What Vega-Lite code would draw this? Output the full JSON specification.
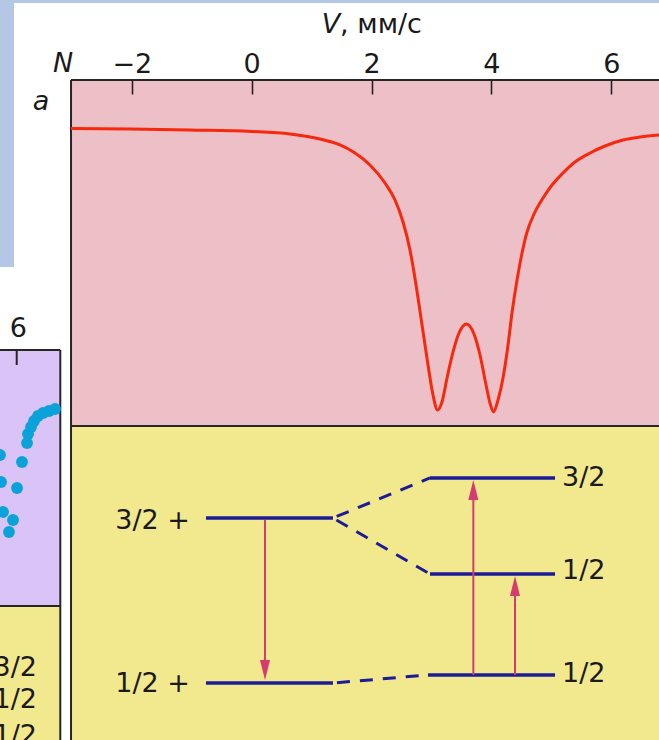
{
  "$schema": "https://vega.github.io/schema/vega-lite/v6.json",
  "width": 659,
  "height": 740,
  "autosize": {"type": "fit", "contains": "padding"},
  "padding": 0,
  "background": "#ffffff",
  "config": {"view": {"stroke": null}},
  "datasets": {
    "regions": [
      {"v": -4.2, "v2": 6.796, "n": 1.41, "n2": 1.42, "region": "slide"},
      {"v": -4.2, "v2": -3.966, "n": 0.53, "n2": 1.42, "region": "slide"},
      {"v": -3.015, "v2": 6.796, "n": 0, "n2": 1.1533, "region": "spectrum"},
      {"v": -3.015, "v2": 6.796, "n": -1.0467, "n2": 0, "region": "levels"},
      {"v": -4.2, "v2": -3.194, "n": -0.6, "n2": 0.2533, "region": "spectrumB"},
      {"v": -4.2, "v2": -3.194, "n": -1.0467, "n2": -0.6, "region": "levels"}
    ],
    "frames": [
      {"v": -3.015, "v2": 6.796, "n": 1.1533, "n2": 1.1533},
      {"v": -3.015, "v2": -3.015, "n": -1.0467, "n2": 1.1533},
      {"v": -3.015, "v2": 6.796, "n": 0, "n2": 0},
      {"v": -4.2, "v2": -3.194, "n": 0.2533, "n2": 0.2533},
      {"v": -3.194, "v2": -3.194, "n": -1.0467, "n2": 0.2533},
      {"v": -4.2, "v2": -3.194, "n": -0.6, "n2": -0.6},
      {"v": -3.921, "v2": -3.921, "n": 0.2033, "n2": 0.2533}
    ],
    "spectrum": [
      {"v": -3.015, "n": 0.9917}, {"v": -2.031, "n": 0.99}, {"v": -1.03, "n": 0.9867},
      {"v": 0.0, "n": 0.9817}, {"v": 0.639, "n": 0.9733}, {"v": 1.14, "n": 0.9567},
      {"v": 1.473, "n": 0.9367}, {"v": 1.724, "n": 0.91}, {"v": 1.974, "n": 0.87},
      {"v": 2.224, "n": 0.81}, {"v": 2.391, "n": 0.7533}, {"v": 2.525, "n": 0.68},
      {"v": 2.641, "n": 0.5867}, {"v": 2.742, "n": 0.47}, {"v": 2.842, "n": 0.3367},
      {"v": 2.942, "n": 0.2033}, {"v": 3.025, "n": 0.1033}, {"v": 3.1, "n": 0.0533},
      {"v": 3.175, "n": 0.08}, {"v": 3.259, "n": 0.16}, {"v": 3.359, "n": 0.2467},
      {"v": 3.459, "n": 0.31}, {"v": 3.584, "n": 0.34}, {"v": 3.709, "n": 0.3067},
      {"v": 3.809, "n": 0.2367}, {"v": 3.91, "n": 0.1367}, {"v": 3.976, "n": 0.0767},
      {"v": 4.035, "n": 0.0467}, {"v": 4.11, "n": 0.0867}, {"v": 4.193, "n": 0.16},
      {"v": 4.277, "n": 0.27}, {"v": 4.343, "n": 0.3767}, {"v": 4.427, "n": 0.4867},
      {"v": 4.494, "n": 0.56}, {"v": 4.589, "n": 0.6433}, {"v": 4.711, "n": 0.7067},
      {"v": 4.861, "n": 0.76}, {"v": 5.011, "n": 0.8033}, {"v": 5.194, "n": 0.8433},
      {"v": 5.394, "n": 0.88}, {"v": 5.645, "n": 0.91}, {"v": 5.895, "n": 0.9333},
      {"v": 6.195, "n": 0.9533}, {"v": 6.479, "n": 0.9633}, {"v": 6.796, "n": 0.97}
    ],
    "spectrumB": [
      {"v": -3.282, "n": 0.0567}, {"v": -3.382, "n": 0.05}, {"v": -3.482, "n": 0.0433},
      {"v": -3.566, "n": 0.0333}, {"v": -3.632, "n": 0.0167}, {"v": -3.682, "n": -0.0033},
      {"v": -3.732, "n": -0.0267}, {"v": -3.749, "n": -0.0567}, {"v": -3.833, "n": -0.12},
      {"v": -3.916, "n": -0.2067}, {"v": -4.2, "n": -0.0967}, {"v": -4.183, "n": -0.1867},
      {"v": -4.15, "n": -0.2867}, {"v": -3.983, "n": -0.3133}, {"v": -4.05, "n": -0.3533}
    ],
    "levels": [
      {"v": -0.763, "v2": 1.356, "n": -0.3067},
      {"v": -0.763, "v2": 1.356, "n": -0.8567},
      {"v": 2.975, "v2": 5.061, "n": -0.1733},
      {"v": 2.975, "v2": 5.061, "n": -0.4933},
      {"v": 2.941, "v2": 5.061, "n": -0.83}
    ],
    "links": [
      {"v": 1.356, "n": -0.3067, "v2": 2.975, "n2": -0.1733},
      {"v": 1.356, "n": -0.3067, "v2": 2.975, "n2": -0.4933},
      {"v": 1.356, "n": -0.8567, "v2": 2.941, "n2": -0.83}
    ],
    "transitions": [
      {"v": 0.222, "n": -0.3133, "n2": -0.8067},
      {"v": 3.698, "n": -0.83, "n2": -0.2333},
      {"v": 4.393, "n": -0.83, "n2": -0.5533}
    ],
    "heads": [
      {"v": 0.222, "n": -0.8133, "dir": "down"},
      {"v": 3.698, "n": -0.2133, "dir": "up"},
      {"v": 4.393, "n": -0.5333, "dir": "up"}
    ],
    "spinRight": [
      {"v": -1.03, "n": -0.3167, "label": "3/2 +"},
      {"v": -1.03, "n": -0.86, "label": "1/2 +"},
      {"v": -3.583, "n": -0.8067, "label": "3/2"},
      {"v": -3.583, "n": -0.9133, "label": "1/2"},
      {"v": -3.583, "n": -1.0333, "label": "1/2"}
    ],
    "spinLeft": [
      {"v": 5.178, "n": -0.1733, "label": "3/2"},
      {"v": 5.178, "n": -0.4833, "label": "1/2"},
      {"v": 5.178, "n": -0.8267, "label": "1/2"}
    ],
    "symbols": [
      {"v": -3.146, "n": 1.18, "label": "N"},
      {"v": -3.516, "n": 1.0533, "label": "a"},
      {"v": 1.323, "n": 1.31, "label": "V"}
    ],
    "unit": [
      {"v": 1.475, "n": 1.31, "label": ", мм/с"}
    ],
    "tickB": [
      {"v": -3.894, "n": 0.2967, "label": "6"}
    ]
  },
  "encoding": {
    "x": {
      "field": "v",
      "type": "quantitative",
      "scale": {"domain": [-4.2, 6.796], "nice": false, "zero": false},
      "axis": {
        "orient": "top",
        "values": [-2, 0, 2, 4, 6],
        "title": null,
        "domain": false,
        "grid": false,
        "zindex": 1,
        "offset": -80,
        "tickSize": -14,
        "tickWidth": 1.6,
        "tickColor": "#222222",
        "labelFont": "DejaVu Sans",
        "labelFontSize": 27,
        "labelColor": "#1a1a1a",
        "labelBaseline": "alphabetic",
        "labelPadding": 22,
        "labelFlush": false,
        "labelOverlap": false
      }
    },
    "y": {
      "field": "n",
      "type": "quantitative",
      "scale": {"domain": [-1.0467, 1.42], "nice": false, "zero": false},
      "axis": null
    }
  },
  "layer": [
    {
      "data": {"name": "regions"},
      "mark": {"type": "rect", "clip": true},
      "encoding": {
        "x2": {"field": "v2"},
        "y2": {"field": "n2"},
        "color": {
          "field": "region",
          "type": "nominal",
          "scale": {"domain": ["slide", "spectrum", "levels", "spectrumB"], "range": ["#b4c7e7", "#edbfc7", "#f2e98f", "#dac4f7"]},
          "legend": null
        }
      }
    },
    {
      "data": {"name": "frames"},
      "mark": {"type": "rule", "color": "#262626", "strokeWidth": 2, "clip": true},
      "encoding": {"x2": {"field": "v2"}, "y2": {"field": "n2"}}
    },
    {
      "data": {"name": "spectrum"},
      "mark": {"type": "line", "color": "#f7280c", "strokeWidth": 3, "interpolate": "monotone", "clip": true},
      "encoding": {}
    },
    {
      "data": {"name": "spectrumB"},
      "mark": {"type": "point", "filled": true, "color": "#0ba2da", "opacity": 1, "size": 140, "clip": true},
      "encoding": {}
    },
    {
      "data": {"name": "levels"},
      "mark": {"type": "rule", "color": "#1c1c96", "strokeWidth": 3.5, "clip": true},
      "encoding": {"x2": {"field": "v2"}}
    },
    {
      "data": {"name": "links"},
      "mark": {"type": "rule", "color": "#1c1c96", "strokeWidth": 3, "strokeDash": [13, 10], "strokeDashOffset": -4, "clip": true},
      "encoding": {"x2": {"field": "v2"}, "y2": {"field": "n2"}}
    },
    {
      "data": {"name": "transitions"},
      "mark": {"type": "rule", "color": "#d63a70", "strokeWidth": 2, "clip": true},
      "encoding": {"y2": {"field": "n2"}}
    },
    {
      "data": {"name": "heads"},
      "mark": {"type": "point", "filled": true, "color": "#d63a70", "opacity": 1, "size": 400, "strokeWidth": 0, "clip": true},
      "encoding": {
        "shape": {
          "field": "dir",
          "type": "nominal",
          "scale": {"domain": ["up", "down"], "range": ["M0,-1L0.5,1L-0.5,1Z", "M0,1L0.5,-1L-0.5,-1Z"]},
          "legend": null
        }
      }
    },
    {
      "data": {"name": "spinRight"},
      "mark": {"type": "text", "font": "DejaVu Sans", "fontSize": 27, "color": "#1a1a1a", "align": "right", "baseline": "middle", "clip": true},
      "encoding": {"text": {"field": "label"}}
    },
    {
      "data": {"name": "spinLeft"},
      "mark": {"type": "text", "font": "DejaVu Sans", "fontSize": 27, "color": "#1a1a1a", "align": "left", "baseline": "middle", "clip": true},
      "encoding": {"text": {"field": "label"}}
    },
    {
      "data": {"name": "symbols"},
      "mark": {"type": "text", "font": "DejaVu Sans", "fontStyle": "italic", "fontSize": 27, "color": "#1a1a1a", "align": "center", "baseline": "alphabetic", "clip": true},
      "encoding": {"text": {"field": "label"}}
    },
    {
      "data": {"name": "unit"},
      "mark": {"type": "text", "font": "DejaVu Sans", "fontSize": 27, "color": "#1a1a1a", "align": "left", "baseline": "alphabetic", "clip": true},
      "encoding": {"text": {"field": "label"}}
    },
    {
      "data": {"name": "tickB"},
      "mark": {"type": "text", "font": "DejaVu Sans", "fontSize": 27, "color": "#1a1a1a", "align": "center", "baseline": "alphabetic", "clip": true},
      "encoding": {"text": {"field": "label"}}
    }
  ]
}
